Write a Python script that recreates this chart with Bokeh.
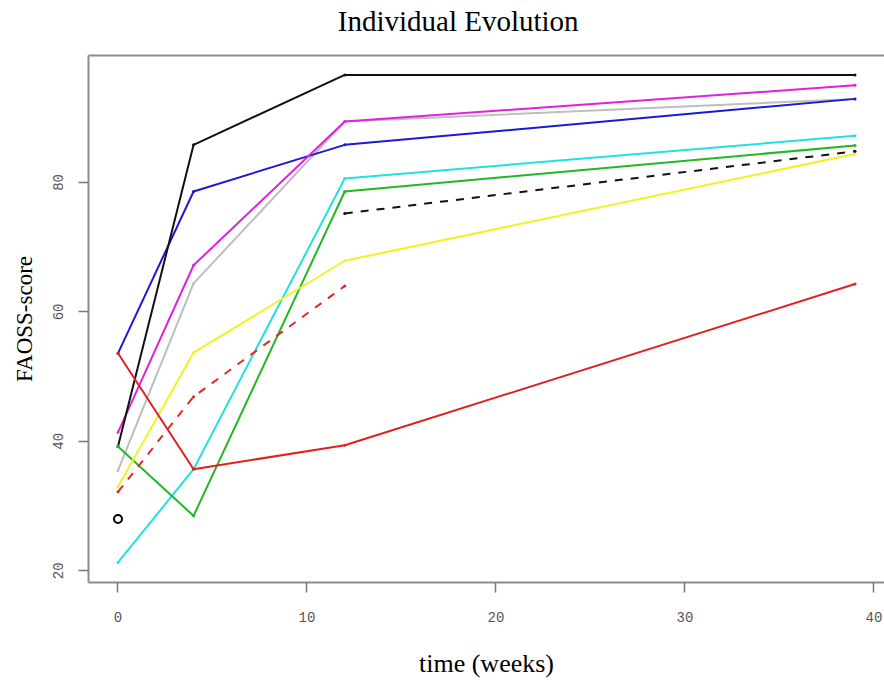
from bokeh.plotting import figure
from bokeh.models import Range1d, LinearAxis, FixedTicker
from bokeh.embed import file_html
from bokeh.resources import INLINE

# ---- data ----
weeks = [0, 4, 12, 39]
black_solid = [39.2, 85.8, 96.6, 96.6]
blue_solid = [53.6, 78.6, 85.8, 92.9]
magenta_solid = [41.4, 67.2, 89.4, 95.0]
grey_solid = [35.5, 64.4, 89.4, 92.9]
cyan_solid = [21.3, 35.7, 80.6, 87.2]
green_solid = [39.2, 28.5, 78.6, 85.7]
yellow_solid = [33.0, 53.7, 67.9, 84.4]
red_solid = [53.6, 35.7, 39.4, 64.3]
red_dashed_weeks = [0, 4, 12]
red_dashed = [32.2, 46.9, 64.0]
black_dashed_weeks = [12, 39]
black_dashed = [75.2, 84.8]
outlier_week = [0]
outlier_score = [28.0]

x_ticks = [0, 10, 20, 30, 40]
y_ticks = [20, 40, 60, 80]
title_text = "Individual Evolution"

series = [
    (weeks, grey_solid, "#bebebe", "solid"),
    (weeks, blue_solid, "#1a1ad6", "solid"),
    (weeks, magenta_solid, "#e020e0", "solid"),
    (weeks, black_solid, "#111111", "solid"),
    (weeks, cyan_solid, "#22e0e0", "solid"),
    (weeks, green_solid, "#22b822", "solid"),
    (weeks, yellow_solid, "#f2f222", "solid"),
    (weeks, red_solid, "#e02020", "solid"),
    (red_dashed_weeks, red_dashed, "#e02828", "8 8"),
    (black_dashed_weeks, black_dashed, "#111111", "8 8"),
]

X0, X1, Y0, Y1 = -1.56, 40.56, 18.2, 99.6
TITLE_POS = 18  # horizontal anchor (in x units) where the title is centred

p = figure(
    width=884, height=680,
    x_range=Range1d(X0, X1), y_range=Range1d(Y0, Y1),
    output_backend="svg", toolbar_location=None,
    min_border_left=88, min_border_right=0, min_border_top=55, min_border_bottom=97,
    x_axis_label="time (weeks)", y_axis_label="FAOSS-score",
)
p.outline_line_color = None
p.grid.grid_line_color = None
p.background_fill_color = "white"
p.border_fill_color = "white"

for ax in p.axis:
    ax.axis_line_color = "#8c8c8c"
    ax.axis_line_width = 2
    ax.major_tick_line_color = "#777777"
    ax.major_tick_line_width = 1.5
    ax.minor_tick_line_color = None

# top border; its single (tick-less) label carries the title
top = LinearAxis(ticker=FixedTicker(ticks=[TITLE_POS]), axis_line_color="#8c8c8c", axis_line_width=2,
                 major_tick_out=0, major_tick_in=0, minor_tick_out=0, minor_tick_in=0,
                 major_tick_line_color=None, minor_tick_line_color=None,
                 major_label_overrides={TITLE_POS: title_text},
                 major_label_standoff=19,
                 major_label_text_font="Liberation Serif", major_label_text_font_style="normal",
                 major_label_text_font_size="29px", major_label_text_color="black")
p.add_layout(top, "above")

xa = p.below[0]
xa.ticker = FixedTicker(ticks=x_ticks)
xa.major_tick_out = 10
xa.major_tick_in = 0
xa.major_label_standoff = 19
xa.major_label_text_font = "Liberation Mono"
xa.major_label_text_font_size = "14px"
xa.major_label_text_color = "#555555"
xa.axis_label_text_font = "Liberation Serif"
xa.axis_label_text_font_style = "normal"
xa.axis_label_text_font_size = "26px"
xa.axis_label_text_color = "black"
xa.axis_label_standoff = 24

ya = p.left[0]
ya.ticker = FixedTicker(ticks=y_ticks)
ya.major_tick_out = 10
ya.major_tick_in = 0
ya.major_label_standoff = 15
ya.major_label_orientation = "vertical"
ya.major_label_text_font = "Liberation Mono"
ya.major_label_text_font_size = "14px"
ya.major_label_text_color = "#555555"
ya.axis_label_text_font = "Liberation Serif"
ya.axis_label_text_font_style = "normal"
ya.axis_label_text_font_size = "23px"
ya.axis_label_text_color = "black"
ya.axis_label_standoff = 14

for xs, ys, col, dash in series:
    p.line(xs, ys, line_color=col, line_width=2, line_dash=dash)
    p.scatter(xs, ys, size=3, color=col, line_width=0)

p.scatter(outlier_week, outlier_score, marker="circle", size=8,
          fill_color=None, line_color="black", line_width=2)

open("out.html", "w").write(file_html(p, INLINE))
